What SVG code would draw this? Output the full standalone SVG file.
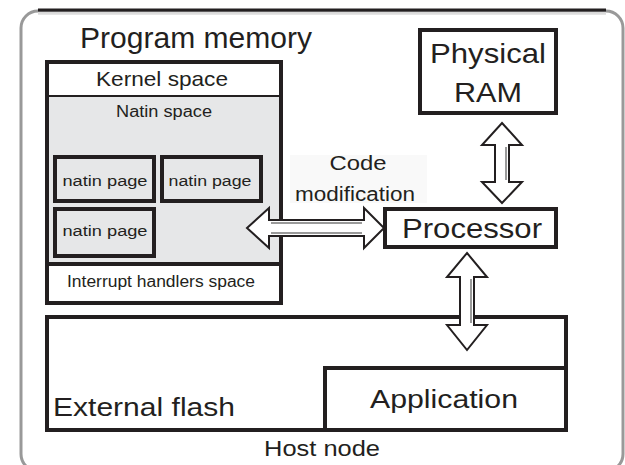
<svg xmlns="http://www.w3.org/2000/svg" width="625" height="465" viewBox="0 0 625 465">
<style>
.b{fill:none;stroke:#231f20;stroke-width:4}
.t{font-family:"Liberation Sans",Arial,sans-serif;fill:#231f20}
.arr{fill:#ffffff;stroke:#231f20;stroke-width:2;stroke-linejoin:miter}
.sh{stroke:#9a9a9a;stroke-width:2;fill:none}
</style>
<rect width="625" height="465" fill="#ffffff"/>
<g id="host-node">
<rect x="21" y="11" width="602" height="460" rx="17" fill="none" stroke="#999" stroke-width="3"/>
<path d="M38 10 H606" stroke="#231f20" stroke-width="3"/>
<path d="M38 13.5 H606" stroke="#dcdcdc" stroke-width="2.5"/>
<text class="t" x="322" y="456" font-size="22" text-anchor="middle" textLength="116" lengthAdjust="spacingAndGlyphs">Host node</text>
</g>
<g id="program-memory">
<text class="t" x="80" y="48" font-size="30" textLength="232" lengthAdjust="spacingAndGlyphs">Program memory</text>
</g>
<g id="kernel-space">
<rect x="47" y="62" width="234" height="35" fill="#ffffff"/>
<path d="M47 97 H281" class="b"/>
<text class="t" x="162" y="86" font-size="21" text-anchor="middle" textLength="132" lengthAdjust="spacingAndGlyphs">Kernel space</text>
</g>
<g id="natin-space">
<rect x="47" y="97" width="234" height="167" fill="#e6e7e8"/>
<text class="t" x="164" y="117" font-size="16" text-anchor="middle" textLength="96" lengthAdjust="spacingAndGlyphs">Natin space</text>
</g>
<g id="interrupt-handlers-space">
<rect x="47" y="264" width="234" height="39" fill="#ffffff"/>
<path d="M47 264 H281" class="b"/>
<text class="t" x="161" y="287" font-size="16" text-anchor="middle" textLength="188" lengthAdjust="spacingAndGlyphs">Interrupt handlers space</text>
</g>
<rect x="47" y="62" width="234" height="241" class="b"/>
<g id="natin-page-1">
<rect x="55" y="157" width="99" height="44" fill="#f9f9f9" class="b"/>
<text class="t" x="105" y="186" font-size="14" text-anchor="middle" textLength="85" lengthAdjust="spacingAndGlyphs">natin page</text>
</g>
<g id="natin-page-2">
<rect x="162" y="157" width="99" height="44" fill="#f9f9f9" class="b"/>
<text class="t" x="210" y="186" font-size="14" text-anchor="middle" textLength="83" lengthAdjust="spacingAndGlyphs">natin page</text>
</g>
<g id="natin-page-3">
<rect x="55" y="209" width="99" height="47" fill="#f9f9f9" class="b"/>
<text class="t" x="105" y="236" font-size="14" text-anchor="middle" textLength="85" lengthAdjust="spacingAndGlyphs">natin page</text>
</g>
<g id="physical-ram">
<rect x="420" y="30" width="136" height="83" fill="#e6e7e8" class="b"/>
<text class="t" x="488" y="63" font-size="28" text-anchor="middle" textLength="116" lengthAdjust="spacingAndGlyphs">Physical</text>
<text class="t" x="488" y="102" font-size="28" text-anchor="middle" textLength="68" lengthAdjust="spacingAndGlyphs">RAM</text>
</g>
<g id="processor">
<rect x="385" y="209" width="171" height="38" fill="#ffffff" class="b"/>
<text class="t" x="472" y="238" font-size="28" text-anchor="middle" textLength="140" lengthAdjust="spacingAndGlyphs">Processor</text>
</g>
<g id="external-flash">
<rect x="47" y="317" width="519" height="113" fill="#ffffff" class="b"/>
<text class="t" x="53" y="416" font-size="26" textLength="182" lengthAdjust="spacingAndGlyphs">External flash</text>
</g>
<g id="application">
<rect x="325" y="368" width="241" height="62" fill="#ffffff" class="b"/>
<text class="t" x="444" y="408" font-size="26" text-anchor="middle" textLength="148" lengthAdjust="spacingAndGlyphs">Application</text>
</g>
<g id="connectors">
<rect x="290" y="155" width="137" height="48" fill="#f9f9f9"/>
<text class="t" x="358" y="170" font-size="20" text-anchor="middle" textLength="57" lengthAdjust="spacingAndGlyphs">Code</text>
<text class="t" x="355" y="201" font-size="20" text-anchor="middle" textLength="120" lengthAdjust="spacingAndGlyphs">modification</text>
<polygon class="arr" points="502,123 522,145 509,145 509,182 522,182 502,203 482,182 495,182 495,145 482,145"/>
<path class="sh" d="M506 147 V180"/>
<polygon class="arr" points="467,253 487,277 474,277 474,325 487,325 467,350 447,325 460,325 460,277 447,277"/>
<path class="sh" d="M471 279 V323"/>
<polygon class="arr" points="247,228 269,208 269,220 364,220 364,208 384,228 364,248 364,236 269,236 269,248"/>
<path class="sh" d="M271 223 H362 M271 233 H362"/>
</g>
</svg>
